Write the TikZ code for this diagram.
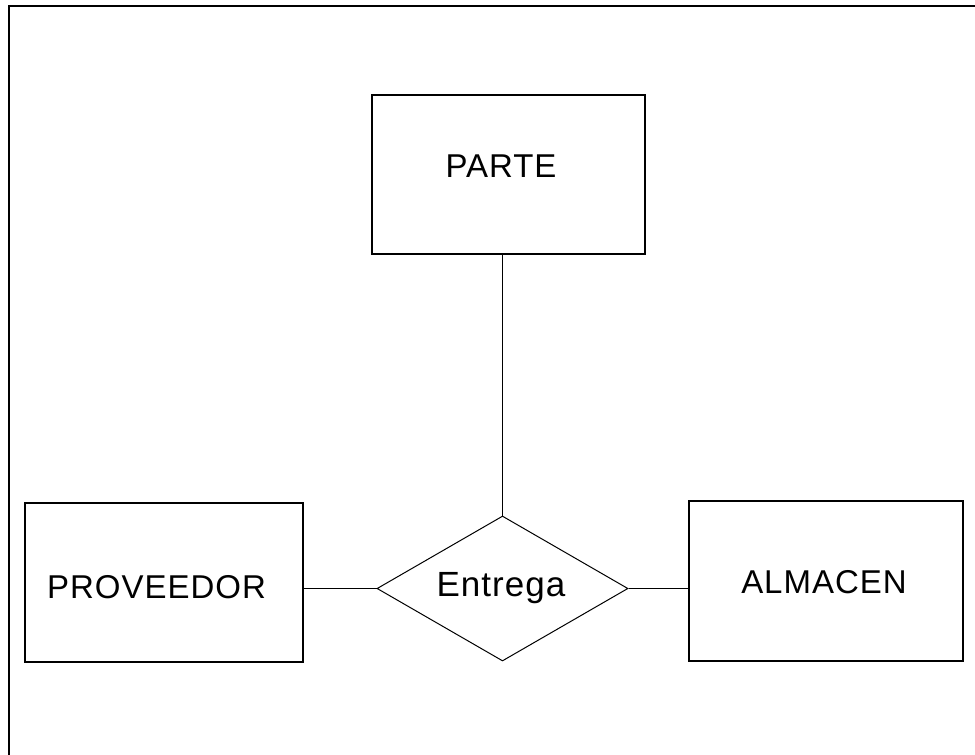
\documentclass[tikz,border=0pt]{standalone}
\usepackage{fontspec}
\setmainfont[LetterSpace=3]{Liberation Sans}
\usetikzlibrary{shapes.geometric}
\newcommand{\shifted}[3]{\raisebox{#2}{\hspace*{#1}#3}}
\begin{document}
\begin{tikzpicture}[x=1pt,y=-1pt,
  entity/.style={draw, line width=1.2pt, rectangle, inner sep=0pt, text height=23.5pt, text depth=0pt, font=\fontsize{33}{36}\selectfont},
  relation/.style={draw, line width=1pt, diamond, inner sep=0pt, shape aspect=1.73, text height=25pt, text depth=0pt, font=\fontsize{35}{38}\selectfont},
  link/.style={line width=1pt},
  frame/.style={line width=2.8pt}]
\useasboundingbox (0,0) rectangle (975,755);
% frame (only top and left edges are visible)
\coordinate (fbl) at (9,760);
\coordinate (ftl) at (9,6);
\coordinate (ftr) at (980,6);
\draw[frame] (fbl) -- (ftl) -- (ftr);
% entities
\node[entity, minimum width=273pt, minimum height=159pt] (parte) at (508.5,174.5) {\shifted{-15pt}{8.5pt}{PARTE}};
\node[entity, minimum width=278pt, minimum height=159pt] (prov) at (164,582.5) {\shifted{-15pt}{-4.5pt}{PROVEEDOR}};
\node[entity, minimum width=274pt, minimum height=160pt] (alm) at (826,581) {\shifted{-4pt}{-1pt}{ALMACEN}};
% relationship
\node[relation, minimum width=251pt, minimum height=145pt] (ent) at (502.5,588.5) {\shifted{-3pt}{4.5pt}{Entrega}};
% connectors
\draw[link] (ent.north) -- (ent.north |- parte.south);
\draw[link] (ent.west) -- (ent.west -| prov.east);
\draw[link] (ent.east) -- (ent.east -| alm.west);
\end{tikzpicture}
\end{document}
